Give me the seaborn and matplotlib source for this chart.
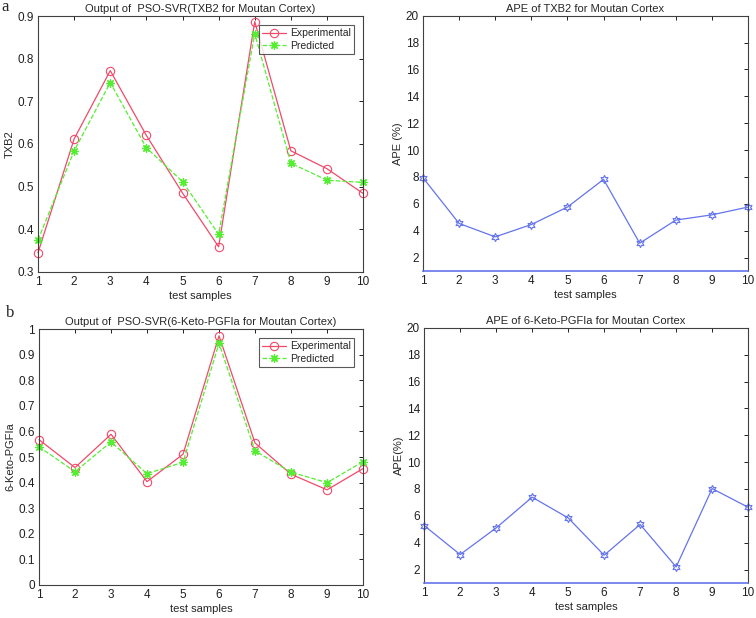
import matplotlib
matplotlib.use("Agg")
import matplotlib.pyplot as plt
import numpy as np
import seaborn as sns

# test samples
samples = list(range(1, 11))

# TXB2
txb2_exp = [0.345, 0.612, 0.772, 0.620, 0.485, 0.359, 0.887, 0.584, 0.542, 0.484]
txb2_pred = [0.375, 0.584, 0.744, 0.591, 0.512, 0.388, 0.859, 0.555, 0.515, 0.510]
txb2_ape = [7.94, 4.54, 3.54, 4.46, 5.76, 7.82, 3.07, 4.79, 5.18, 5.76]

# 6-Keto-PGF1a
keto_exp = [0.568, 0.459, 0.589, 0.404, 0.511, 0.974, 0.555, 0.433, 0.372, 0.455]
keto_pred = [0.540, 0.443, 0.559, 0.435, 0.480, 0.945, 0.524, 0.441, 0.400, 0.482]
keto_ape = [5.28, 3.12, 5.10, 7.39, 5.85, 3.07, 5.36, 2.20, 8.03, 6.64]

RED = "#f04a6a"
GREEN = "#55ee33"
BLUE = "#6474ec"

sns.set_style("white")
plt.rcParams["font.family"] = ["Liberation Sans", "DejaVu Sans"]

fig = plt.figure(figsize=(7.56, 6.18), dpi=100)
ax_tl = fig.add_axes([0.0503, 0.560, 0.430, 0.414])
ax_tr = fig.add_axes([0.5595, 0.5615, 0.430, 0.413])
ax_bl = fig.add_axes([0.0516, 0.0534, 0.4286, 0.414])
ax_br = fig.add_axes([0.561, 0.0566, 0.4286, 0.413])


def style_axes(ax):
    """ MATLAB-like box axes with inward ticks """
    for s in ax.spines.values():
        s.set_color("#404040")
        s.set_linewidth(0.8)
    ax.tick_params(direction="in", length=3, width=0.7, labelsize=8.5,
                   top=True, right=True, pad=3, colors="#202020")
    ax.set_xlim(1, 10)
    ax.set_xticks(samples)
    ax.set_xlabel("test samples", fontsize=8, labelpad=2)
    for ln in ax.lines:
        ln.set_clip_on(False)


def output_plot(ax, exp, pred, title, ylabel, ylim, yticks, yticklabels):
    sns.lineplot(x=samples, y=exp, ax=ax, color=RED, lw=0.9, marker="o",
                 markersize=6, markerfacecolor="none", markeredgecolor=RED,
                 markeredgewidth=0.8, label="Experimental")
    sns.lineplot(x=samples, y=pred, ax=ax, color=GREEN, lw=0.9,
                 marker=(8, 2, 0), markersize=6, markeredgecolor=GREEN,
                 markeredgewidth=0.9, linestyle="--", label="Predicted")
    style_axes(ax)
    ax.set_ylim(*ylim)
    ax.set_yticks(yticks)
    ax.set_yticklabels(yticklabels)
    ax.set_title(title, fontsize=8, pad=3)
    ax.set_ylabel(ylabel, fontsize=8, labelpad=2)
    leg = ax.legend(loc="upper right", fontsize=7.5, frameon=True,
                    fancybox=False, edgecolor="#303030", handlelength=2.3,
                    borderpad=0.3, labelspacing=0.25, handletextpad=0.4,
                    bbox_to_anchor=(0.988, 0.985))
    leg.get_frame().set_linewidth(0.8)


def ape_plot(ax, ape, title, ylabel):
    sns.lineplot(x=samples, y=ape, ax=ax, color=BLUE, lw=0.9,
                 marker=(6, 1, 0), markersize=6, markerfacecolor="none",
                 markeredgecolor=BLUE, markeredgewidth=0.8)
    style_axes(ax)
    ax.set_ylim(1, 20)
    ax.set_yticks(range(2, 21, 2))
    ax.spines["bottom"].set_color(BLUE)
    ax.spines["bottom"].set_linewidth(1.2)
    ax.set_title(title, fontsize=8, pad=3)
    ax.set_ylabel(ylabel, fontsize=8, labelpad=2)


output_plot(ax_tl, txb2_exp, txb2_pred,
            "Output of  PSO-SVR(TXB2 for Moutan Cortex)", "TXB2",
            (0.3, 0.9), np.arange(0.3, 0.91, 0.1),
            ["0.3", "0.4", "0.5", "0.6", "0.7", "0.8", "0.9"])
output_plot(ax_bl, keto_exp, keto_pred,
            "Output of  PSO-SVR(6-Keto-PGFIa for Moutan Cortex)", "6-Keto-PGFIa",
            (0, 1), np.arange(0, 1.01, 0.1),
            ["0", "0.1", "0.2", "0.3", "0.4", "0.5", "0.6", "0.7", "0.8",
             "0.9", "1"])
ape_plot(ax_tr, txb2_ape, "APE of TXB2 for Moutan Cortex", "APE (%)")
ape_plot(ax_br, keto_ape, "APE of 6-Keto-PGFIa for Moutan Cortex", "APE(%)")

fig.text(0.002, 0.988, "a", fontsize=12, family="Liberation Serif",
         va="center", ha="left")
fig.text(0.008, 0.493, "b", fontsize=12, family="Liberation Serif",
         va="center", ha="left")

fig.savefig("out.png", dpi=100, facecolor="white")
